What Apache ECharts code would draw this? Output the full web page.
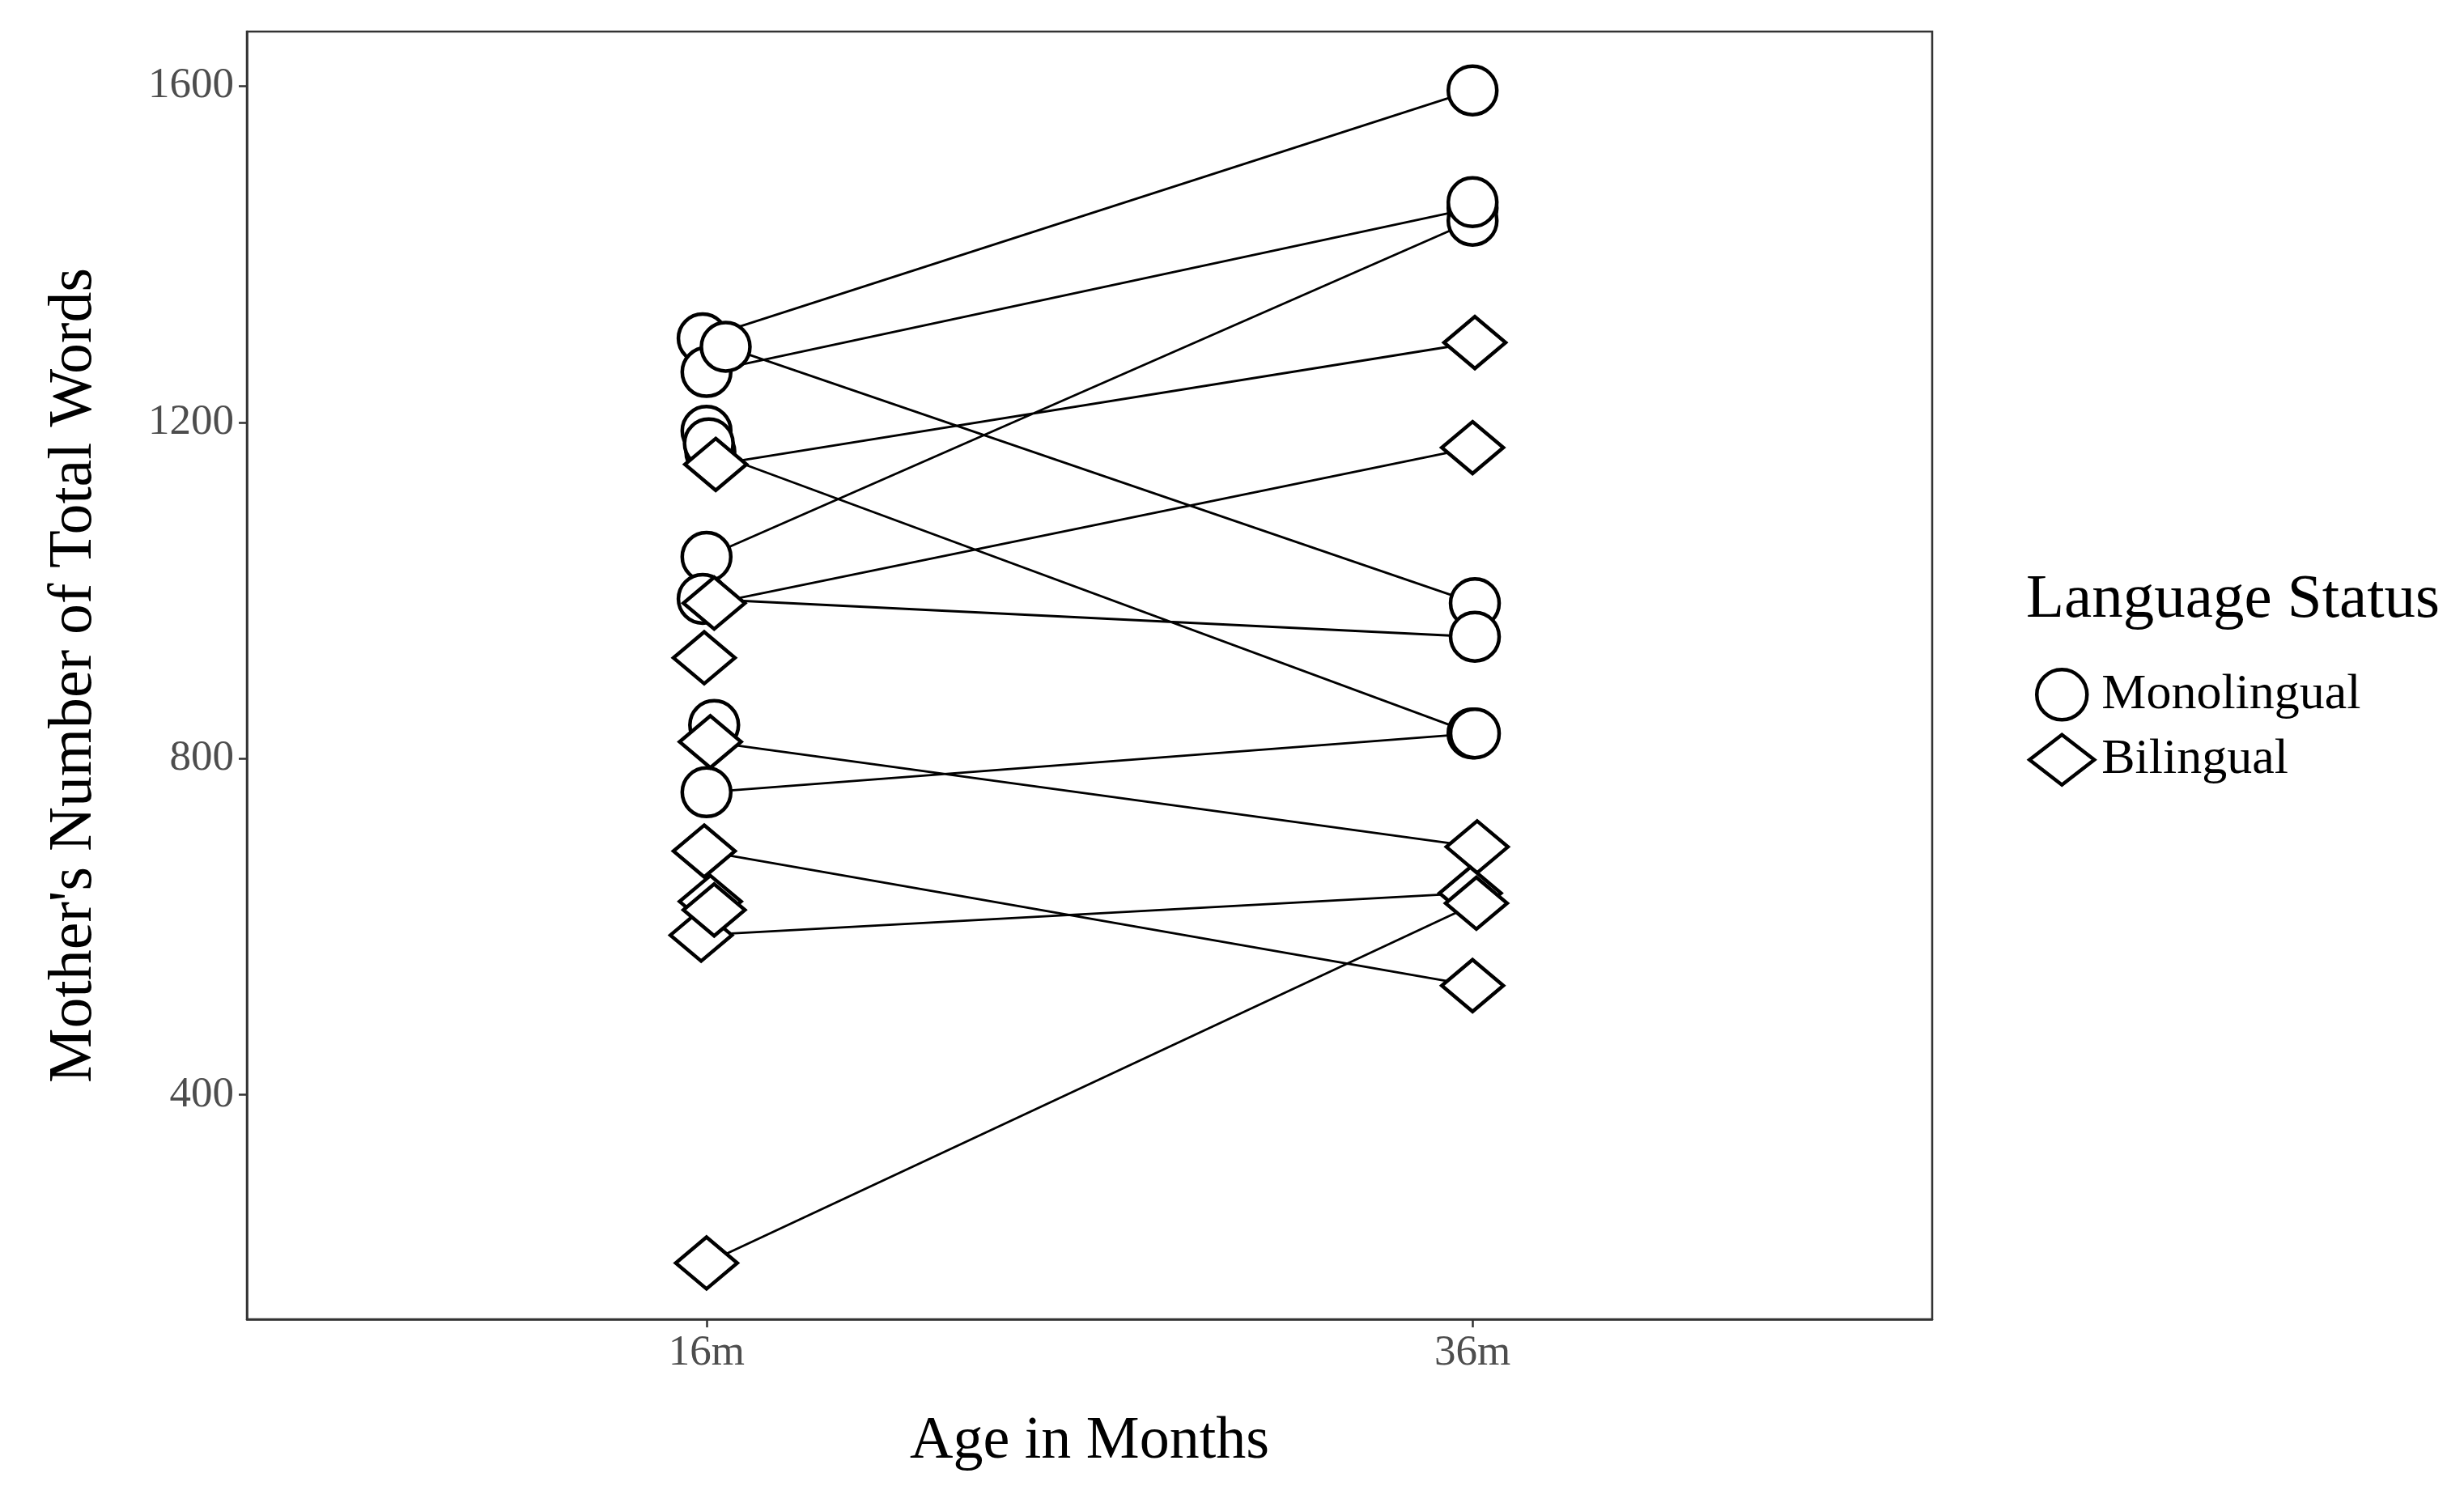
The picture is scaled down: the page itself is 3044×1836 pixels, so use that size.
<!DOCTYPE html>
<html>
<head>
<meta charset="utf-8">
<script src="https://cdn.jsdelivr.net/npm/echarts@6/dist/echarts.min.js"></script>
<style>html,body{margin:0;padding:0;background:#fff}#chart{width:3044px;height:1836px}</style>
</head>
<body>
<div id="chart"></div>
<script>
// paired observations: group, words at 16m, words at 36m, horizontal jitter at each age
const pairGroup = ['M', 'M', 'M', 'B', 'M', 'M', 'B', 'M', 'B', 'M', 'B', 'B', 'B'];
const pair16 = [1300, 1260, 1040, 1150, 1290, 1165, 985, 990, 820, 760, 690, 590, 200];
const pair36 = [1595, 1455, 1440, 1295, 985, 830, 1170, 945, 695, 830, 530, 640, 628];
const jit16 = [-0.005, 0.0, 0.0, 0.012, 0.025, 0.005, 0.01, -0.005, 0.005, 0.0, -0.003, -0.007, 0.0];
const jit36 = [0.0, 0.0, 0.0, 0.003, 0.003, 0.0, 0.0, 0.003, 0.006, 0.003, 0.0, -0.003, 0.005];
// single observations without a partner
const soloGroup = ['M', 'M', 'B', 'M', 'B', 'B', 'M'];
const soloAge = [1, 1, 1, 1, 1, 1, 2];
const soloVal = [1190, 1175, 920, 840, 630, 620, 1462];
const soloJit = [0.0, 0.003, -0.003, 0.01, 0.005, 0.01, 0.0];
const ageLabels = ['16m', '36m'];
const yTicks = [400, 800, 1200, 1600];

const font = 'Liberation Serif';
const lineData = [];
const mono = [], bili = [];
pairGroup.forEach((g, i) => {
  const a = [1 + jit16[i], pair16[i]], b = [2 + jit36[i], pair36[i]];
  lineData.push(a, b, '-');
  (g === 'M' ? mono : bili).push(a, b);
});
soloGroup.forEach((g, i) => {
  (g === 'M' ? mono : bili).push([soloAge[i] + soloJit[i], soloVal[i]]);
});

const markerStyle = { color: '#fff', borderColor: '#000', borderWidth: 4.5, opacity: 1 };
const chart = echarts.init(document.getElementById('chart'));
chart.setOption({
  animation: false,
  grid: { left: 305, right: 657, top: 39, bottom: 206 },
  xAxis: {
    type: 'value', min: 0.4, max: 2.6,
    axisLine: { show: true, onZero: false, lineStyle: { color: '#333', width: 2.5 } },
    splitLine: { show: false },
    axisTick: { customValues: [1, 2], length: 10, lineStyle: { color: '#333', width: 2.5 } },
    axisLabel: { customValues: [1, 2], formatter: v => ageLabels[Math.round(v) - 1],
      fontFamily: font, fontSize: 53, color: '#4d4d4d', margin: 16 },
    name: 'Age in Months', nameLocation: 'middle', nameGap: 115,
    nameTextStyle: { fontFamily: font, fontSize: 74, color: '#000' }
  },
  yAxis: {
    type: 'value', min: 133, max: 1665,
    axisLine: { show: true, lineStyle: { color: '#333', width: 2.5 } },
    splitLine: { show: false },
    axisTick: { show: true, customValues: yTicks, length: 10, lineStyle: { color: '#333', width: 2.5 } },
    axisLabel: { customValues: yTicks, formatter: v => String(v),
      fontFamily: font, fontSize: 53, color: '#4d4d4d', margin: 16 },
    name: "Mother's Number of Total Words", nameLocation: 'middle', nameGap: 175,
    nameTextStyle: { fontFamily: font, fontSize: 76, color: '#000' }
  },
  legend: {
    orient: 'vertical', left: 2500, top: 820, itemGap: 14, itemWidth: 80, itemHeight: 62,
    data: ['Monolingual', 'Bilingual'],
    itemStyle: { color: '#fff', borderColor: '#000', borderWidth: 4.5 },
    textStyle: { fontFamily: font, fontSize: 62, color: '#000', padding: [0, 0, 0, 4] }
  },
  graphic: [{
    type: 'text', left: 2503, top: 703,
    style: { text: 'Language Status', font: '77px "Liberation Serif"', fill: '#000' }
  }, {
    type: 'rect', shape: { x: 305, y: 39, width: 2082, height: 1591 },
    style: { fill: 'none', stroke: '#333', lineWidth: 2.5 }, silent: true, z: 10
  }],
  series: [{
    type: 'line', data: lineData, showSymbol: false, connectNulls: false,
    lineStyle: { color: '#000', width: 2.8 }, z: 1
  }, {
    name: 'Monolingual', type: 'scatter', data: mono, symbol: 'circle', symbolSize: 60,
    itemStyle: markerStyle, z: 3
  }, {
    name: 'Bilingual', type: 'scatter', data: bili, symbol: 'diamond', symbolSize: [76, 64],
    itemStyle: markerStyle, z: 3
  }]
});
</script>
</body>
</html>
